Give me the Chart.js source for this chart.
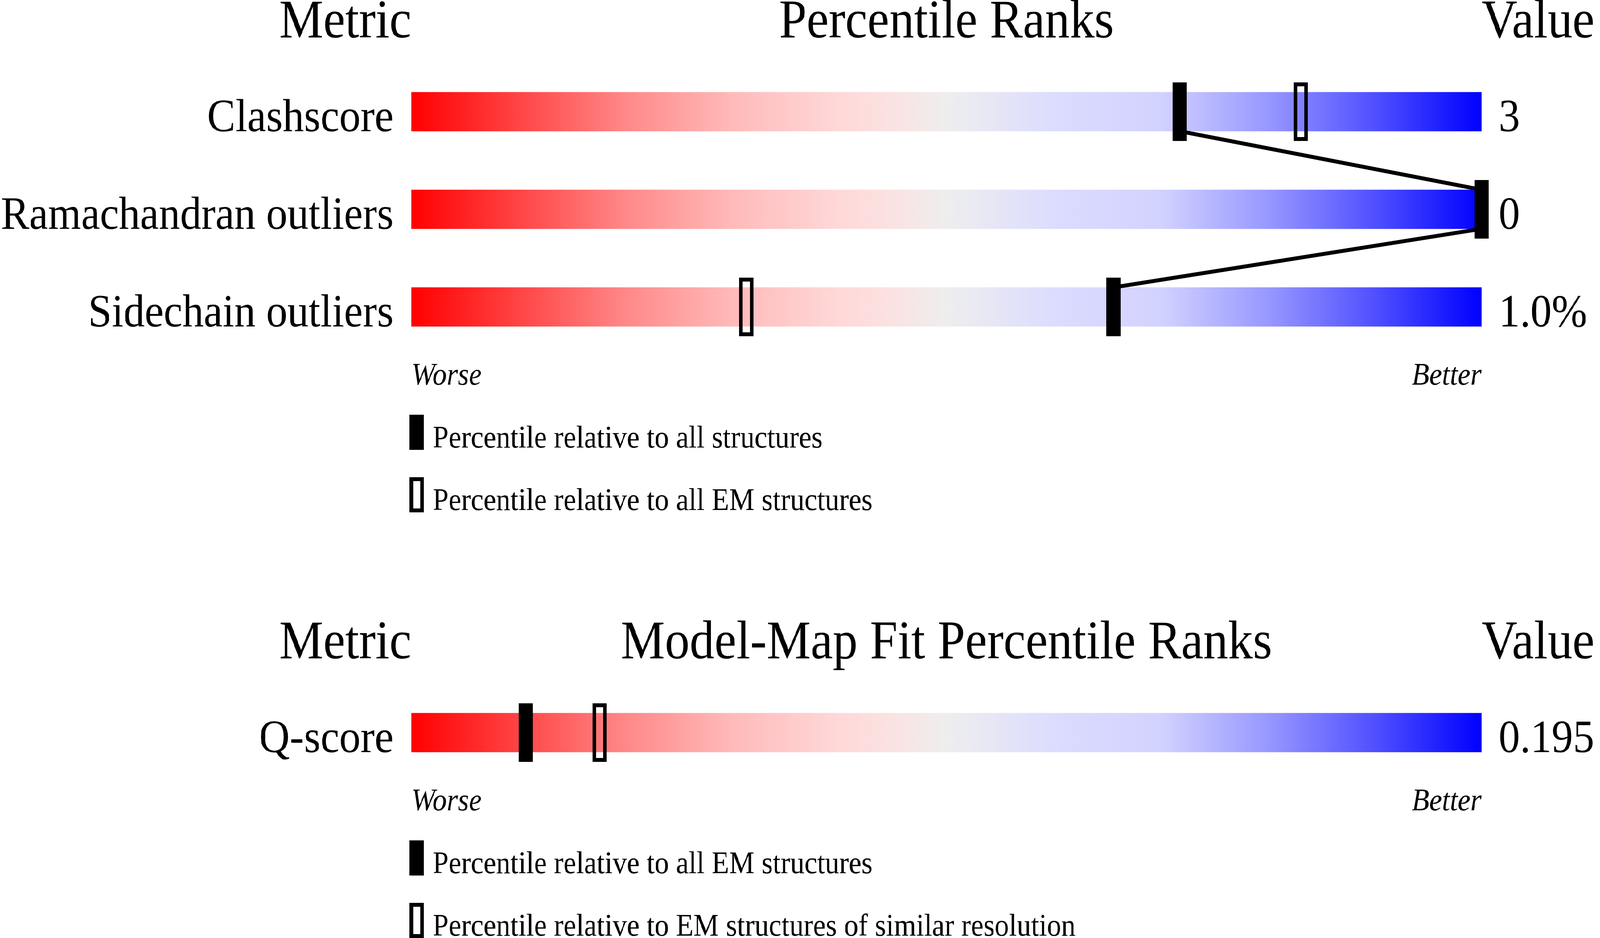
<!DOCTYPE html>
<html lang="en">
<head>
<meta charset="UTF-8">
<title>Percentile Ranks</title>
<style>
  html, body { margin: 0; padding: 0; background: #fff; overflow: hidden; }
  #frame { position: relative; overflow: hidden; width: 4485px; height: 2402px; }
  #page { width: 4485px; height: 2402px; position: absolute; left: 0; top: 0; transform-origin: 0 0; }
  canvas { position: absolute; left: 0; }
  #geomChart { top: 0; }
  #fitChart { top: 1400px; }
</style>
</head>
<body>
<div id="frame">
  <div id="page">
    <canvas id="geomChart" width="4485" height="1400"></canvas>
    <canvas id="fitChart" width="4485" height="1002"></canvas>
  </div>
</div>

<script src="https://cdn.jsdelivr.net/npm/chart.js"></script>
<script>
// --- geometry quality section ---
var geomMetrics = ['Clashscore', 'Ramachandran outliers', 'Sidechain outliers'];
var geomValues = ['3', '0', '1.0%'];
var geomPctAll = [71.8, 100, 65.6];      // filled marker
var geomPctEM = [83.1, null, 31.3];      // hollow marker
var geomLegend = ['Percentile relative to all structures',
                  'Percentile relative to all EM structures'];

// --- model-map fit section ---
var fitMetrics = ['Q-score'];
var fitValues = ['0.195'];
var fitPctAll = [10.7];
var fitPctRes = [17.6];
var fitLegend = ['Percentile relative to all EM structures',
                 'Percentile relative to EM structures of similar resolution'];

var SERIF = "'Liberation Serif', 'Times New Roman', serif";
var ROW_PX = 250;     // distance between rows
var BAR_PX = 100;     // slider thickness

// the layout is drawn at 4485x2402 and stretched onto the real viewport
(function fitPage() {
  var w = document.documentElement.clientWidth || window.innerWidth;
  var h = document.documentElement.clientHeight || window.innerHeight;
  var frame = document.getElementById('frame');
  frame.style.width = w + 'px';
  frame.style.height = h + 'px';
  document.getElementById('page').style.transform = 'scale(' + (w / 4485) + ',' + (h / 2402) + ')';
})();

// red -> grey -> blue slider colours
var GRADIENT = [
  [0.00, '#ff0000'],
  [0.10, '#ff4444'],
  [0.20, '#ff8888'],
  [0.30, '#ffbaba'],
  [0.40, '#ffd8d8'],
  [0.45, '#fbe2e2'],
  [0.50, '#eeeeee'],
  [0.60, '#dcdcff'],
  [0.70, '#d2d2ff'],
  [0.80, '#9898ff'],
  [0.90, '#5050ff'],
  [1.00, '#0000ff']
];

function sliderGradient(context) {
  var chart = context.chart;
  if (!chart.chartArea) return null;
  var xs = chart.scales.x;
  var g = chart.ctx.createLinearGradient(xs.getPixelForValue(0), 0, xs.getPixelForValue(100), 0);
  GRADIENT.forEach(function (s) { g.addColorStop(s[0], s[1]); });
  return g;
}

// marker images used as point styles
function markerImage(filled) {
  var c = document.createElement('canvas');
  c.width = 40;
  c.height = 150;
  var g = c.getContext('2d');
  g.fillStyle = '#000';
  g.strokeStyle = '#000';
  if (filled) {
    g.fillRect(0, 0, 40, 150);
  } else {
    g.lineWidth = 10;
    g.strokeRect(5, 5, 30, 140);
  }
  return c;
}
var filledMarker = markerImage(true);
var hollowMarker = markerImage(false);

function points(pcts) {
  var out = [];
  pcts.forEach(function (p, i) {
    if (p !== null) out.push({ x: p, y: i });
  });
  return out;
}

// line from bottom of one slider to top of the next one, through the filled markers
function linkPoints(pcts) {
  var half = (BAR_PX / 2) / ROW_PX;
  var out = [];
  for (var i = 0; i < pcts.length - 1; i++) {
    out.push({ x: pcts[i], y: i + half });
    out.push({ x: pcts[i + 1], y: i + 1 - half });
  }
  return out;
}

function drawText(chart, s) {
  var ctx = chart.ctx, xs = chart.scales.x, ys = chart.scales.y;
  var left = xs.getPixelForValue(0), right = xs.getPixelForValue(100), mid = xs.getPixelForValue(50);
  var first = ys.getPixelForValue(0), last = ys.getPixelForValue(s.metrics.length - 1);

  ctx.save();
  ctx.fillStyle = '#000';
  ctx.strokeStyle = '#000';
  ctx.textBaseline = 'alphabetic';

  ctx.font = '139px ' + SERIF;
  ctx.textAlign = 'right';
  ctx.fillText('Metric', left, first - 190);
  ctx.textAlign = 'center';
  ctx.fillText(s.title, mid, first - 190);
  ctx.textAlign = 'left';
  ctx.fillText('Value', right, first - 190);

  ctx.font = '119px ' + SERIF;
  s.metrics.forEach(function (m, i) {
    var y = ys.getPixelForValue(i) + 50;
    ctx.textAlign = 'right';
    ctx.fillText(m, left - 50, y);
    ctx.textAlign = 'left';
    ctx.fillText(s.values[i], right + 48, y);
  });

  ctx.font = 'italic 80px ' + SERIF;
  ctx.textAlign = 'left';
  ctx.fillText('Worse', left, last + 199);
  ctx.textAlign = 'right';
  ctx.fillText('Better', right, last + 199);

  ctx.font = '80px ' + SERIF;
  ctx.textAlign = 'left';
  s.legend.forEach(function (t, k) {
    var top = last + 276 + k * 160;
    if (k === 0) {
      ctx.fillRect(left - 5, top, 40, 90);
    } else {
      ctx.lineWidth = 10;
      ctx.strokeRect(left, top + 5, 30, 80);
    }
    ctx.fillText(t, left + 60, top + 84);
  });
  ctx.restore();
}

function makeSlider(canvasId, s) {
  var n = s.metrics.length;
  var datasets = [
    {
      type: 'scatter',
      data: points(s.pctA),
      pointStyle: filledMarker,
      pointRadius: 20,
      clip: false,
      order: 0
    },
    {
      type: 'scatter',
      data: points(s.pctB),
      pointStyle: hollowMarker,
      pointRadius: 20,
      clip: false,
      order: 1
    },
    {
      type: 'bar',
      indexAxis: 'y',
      data: s.metrics.map(function (m, i) { return { y: i, x: [0, 100] }; }),
      backgroundColor: sliderGradient,
      borderWidth: 0,
      barThickness: BAR_PX,
      order: 3
    }
  ];
  if (n > 1) {
    datasets.push({
      type: 'line',
      data: linkPoints(s.pctA),
      borderColor: '#000',
      borderWidth: 10,
      pointRadius: 0,
      tension: 0,
      fill: false,
      clip: false,
      order: 2
    });
  }

  return new Chart(document.getElementById(canvasId), {
    type: 'scatter',
    data: { datasets: datasets },
    options: {
      responsive: false,
      animation: false,
      devicePixelRatio: 1,
      events: [],
      layout: { padding: s.padding },
      plugins: { legend: { display: false }, tooltip: { enabled: false } },
      scales: {
        x: { type: 'linear', min: 0, max: 100, offset: false, display: false },
        y: { type: 'linear', min: -0.5, max: n - 0.5, reverse: true, offset: false, display: false }
      }
    },
    plugins: [{
      id: 'sliderText',
      afterDraw: function (chart) { drawText(chart, s); }
    }]
  });
}

makeSlider('geomChart', {
  title: 'Percentile Ranks',
  metrics: geomMetrics,
  values: geomValues,
  pctA: geomPctAll,
  pctB: geomPctEM,
  legend: geomLegend,
  padding: { left: 1153, right: 332, top: 161, bottom: 489 }
});

makeSlider('fitChart', {
  title: 'Model-Map Fit Percentile Ranks',
  metrics: fitMetrics,
  values: fitValues,
  pctA: fitPctAll,
  pctB: fitPctRes,
  legend: fitLegend,
  padding: { left: 1153, right: 332, top: 351, bottom: 401 }
});
</script>
</body>
</html>
